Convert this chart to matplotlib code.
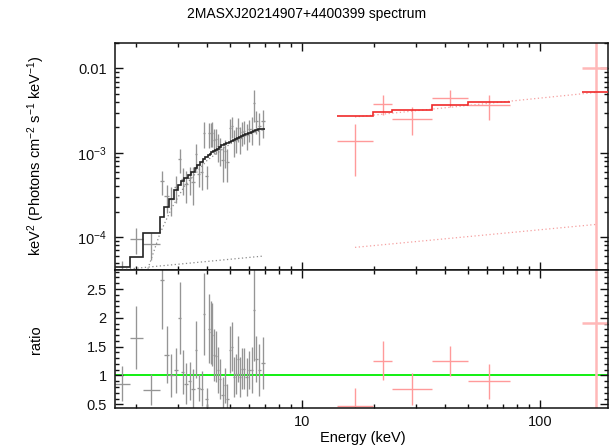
import numpy as np
import matplotlib
matplotlib.use("Agg")
import matplotlib.pyplot as plt
from matplotlib.ticker import FixedLocator, NullFormatter, FuncFormatter, MultipleLocator

plt.rcParams['font.family'] = ['Liberation Sans', 'DejaVu Sans']
plt.rcParams['mathtext.fontset'] = 'custom'
plt.rcParams['mathtext.rm'] = 'Liberation Sans'
plt.rcParams['mathtext.it'] = 'Liberation Sans'
plt.rcParams['mathtext.default'] = 'regular'

title = "2MASXJ20214907+4400399 spectrum"
xlabel = "Energy (keV)"
ylabel_top = "keV$^2$ (Photons cm$^{-2}$ s$^{-1}$ keV$^{-1}$)"
ylabel_bot = "ratio"

# ---- black (soft X-ray) group ----
black_edges = [1.64, 1.89, 2.14, 2.53, 2.64, 2.77, 2.89, 3.01, 3.11, 3.20, 3.32, 3.43, 3.54,
               3.63, 3.73, 3.84, 3.93, 4.03, 4.10, 4.16, 4.23, 4.31, 4.38, 4.46, 4.58, 4.69,
               4.80, 4.92, 5.02, 5.12, 5.23, 5.34, 5.44, 5.53, 5.64, 5.78, 5.93, 6.08, 6.21,
               6.34, 6.51, 6.72, 6.99]
black_model = [4.48e-5, 5.78e-5, 1.11e-4, 1.75e-4, 2.26e-4, 2.88e-4, 3.62e-4, 4.2e-4, 4.6e-4,
               5.0e-4, 5.5e-4, 6.0e-4, 6.6e-4, 7.1e-4, 7.8e-4, 8.4e-4, 8.9e-4, 9.4e-4, 9.7e-4,
               1.01e-3, 1.05e-3, 1.09e-3, 1.12e-3, 1.18e-3, 1.23e-3, 1.27e-3, 1.30e-3, 1.35e-3,
               1.38e-3, 1.43e-3, 1.47e-3, 1.52e-3, 1.55e-3, 1.59e-3, 1.64e-3, 1.69e-3, 1.74e-3,
               1.78e-3, 1.82e-3, 1.85e-3, 1.90e-3, 1.94e-3]
black_flux = [3.85e-5, 9.57e-5, 8.33e-5, 4.66e-4, 3.07e-4, 2.88e-4, 3.95e-4, 8.4e-4, 4.88e-4,
              4.3e-4, 5.0e-4, 4.56e-4, 9.57e-4, 5.61e-4, 6.0e-4, 1.74e-3, 5.34e-4, 1.70e-3,
              1.70e-3, 1.73e-3, 1.43e-3, 1.45e-3, 1.22e-3, 1.11e-3, 8.24e-4, 1.05e-3, 7.8e-4,
              1.96e-3, 2.07e-3, 1.39e-3, 1.51e-3, 1.96e-3, 1.50e-3, 1.78e-3, 1.84e-3, 1.64e-3,
              1.90e-3, 1.94e-3, 3.89e-3, 2.39e-3, 2.09e-3, 2.37e-3]
black_flux_err = [1.39e-5, 3.18e-5, 3.0e-5, 1.49e-4, 1.11e-4, 1.07e-4, 1.41e-4, 2.65e-4, 1.75e-4,
                  1.75e-4, 1.8e-4, 2.16e-4, 3.3e-4, 1.63e-4, 2.34e-4, 5.9e-4, 1.6e-4, 5.6e-4,
                  5.3e-4, 5.6e-4, 4.7e-4, 4.9e-4, 4.5e-4, 4.1e-4, 3.7e-4, 3.8e-4, 3.25e-4,
                  5.4e-4, 5.8e-4, 5.0e-4, 5.1e-4, 6.1e-4, 5.4e-4, 5.6e-4, 5.7e-4, 5.6e-4,
                  5.7e-4, 7.1e-4, 1.6e-3, 7.4e-4, 8.6e-4, 8.7e-4]
black_ratio = [0.86, 1.655, 0.75, 2.66, 1.36, 1.0, 1.09, 2.0, 1.06, 0.86, 0.91, 0.76, 1.45,
               0.79, 0.77, 2.07, 0.6, 1.81, 1.75, 1.71, 1.36, 1.33, 1.09, 0.94, 0.67, 0.83,
               0.6, 1.45, 1.5, 0.97, 1.03, 1.29, 0.97, 1.12, 1.12, 0.97, 1.09, 1.09, 2.14,
               1.29, 1.1, 1.22]
black_ratio_err = [0.31, 0.55, 0.27, 0.85, 0.49, 0.37, 0.39, 0.63, 0.38, 0.35, 0.33, 0.36, 0.5,
                   0.23, 0.3, 0.71, 0.18, 0.6, 0.55, 0.55, 0.45, 0.45, 0.4, 0.35, 0.3, 0.3,
                   0.25, 0.4, 0.42, 0.35, 0.35, 0.4, 0.35, 0.35, 0.35, 0.33, 0.33, 0.4, 0.88,
                   0.4, 0.45, 0.45]
# model components (dotted)
black_abs_e = [2.20, 2.53, 2.83, 3.20, 4.00, 5.00, 6.00, 6.90]
black_abs_f = [3.5e-5, 1.11e-4, 2.2e-4, 4.0e-4, 8.2e-4, 1.28e-3, 1.66e-3, 1.88e-3]
black_scat_e = [1.76, 6.90]
black_scat_f = [4.15e-5, 6.0e-5]

# ---- red (hard X-ray) group ----
red_edges_a = [14.0, 19.9, 23.9, 35.0, 50.0, 75.0]
red_model_a = [2.74e-3, 3.03e-3, 3.26e-3, 3.64e-3, 3.98e-3]
red_edges_b = [150.0, 196.0]
red_model_b = [5.27e-3]
red_lo = [14.0, 19.9, 23.9, 35.0, 50.0, 150.0]
red_hi = [19.9, 23.9, 35.0, 50.0, 75.0, 196.0]
red_flux = [1.375e-3, 3.84e-3, 2.55e-3, 4.52e-3, 3.67e-3, 1.0e-2]
red_flux_lo = [8.4e-4, 1.0e-3, 9.4e-4, 1.0e-3, 1.25e-3, 9.999e-3]
red_flux_hi = [8.4e-4, 1.0e-3, 9.4e-4, 1.0e-3, 1.2e-3, 3.0e-2]
red_ratio = [0.467, 1.26, 0.77, 1.243, 0.896, 1.915]
red_ratio_err = [0.32, 0.33, 0.28, 0.26, 0.30, 5.0]
red_abs_e = [16.7, 171.5]
red_abs_f = [2.66e-3, 5.2e-3]
red_scat_e = [16.7, 171.5]
red_scat_f = [7.6e-5, 1.42e-4]

xlim = (1.638, 193.0)
ylim_top = (4.1e-5, 2.0e-2)
ylim_bot = (0.436, 2.83)

# ---- figure ----
fig = plt.figure(figsize=(6.1, 4.47), dpi=100)
ax1 = fig.add_axes([0.18852, 0.39597, 0.80820, 0.50783])
ax2 = fig.add_axes([0.18852, 0.08725, 0.80820, 0.30872], sharex=ax1)

GRAY = '#959595'
DARK = '#222222'
RED_D = '#ff9a9a'
RED_M = '#f02a2a'
PINK_DOT = '#f5a0a0'

be = np.array(black_edges)
b_lo, b_hi = be[:-1], be[1:]
b_c = np.sqrt(b_lo * b_hi)
b_xerr = [b_c - b_lo, b_hi - b_c]

r_lo = np.array(red_lo)
r_hi = np.array(red_hi)
r_c = np.sqrt(r_lo * r_hi)
r_xerr = [r_c - r_lo, r_hi - r_c]

for ax in (ax1, ax2):
    ax.set_xscale('log')

# top panel
ax1.errorbar(b_c, black_flux, xerr=b_xerr, yerr=black_flux_err, fmt='none',
             ecolor=GRAY, elinewidth=0.95, capsize=0, zorder=2)
ax1.stairs(black_model, black_edges, baseline=None, color=DARK, lw=1.2, zorder=4)
ax1.plot(black_abs_e, black_abs_f, ls=(0, (1, 2)), color='#8a8a8a', lw=0.9, zorder=3)
ax1.plot(black_scat_e, black_scat_f, ls=(0, (1, 2)), color='#8a8a8a', lw=0.9, zorder=3)

ax1.errorbar(r_c[:5], red_flux[:5], xerr=[r_xerr[0][:5], r_xerr[1][:5]],
             yerr=[red_flux_lo[:5], red_flux_hi[:5]], fmt='none',
             ecolor=RED_D, elinewidth=1.0, capsize=0, zorder=2)
ax1.errorbar(r_c[5:], red_flux[5:], xerr=[r_xerr[0][5:], r_xerr[1][5:]],
             yerr=[red_flux_lo[5:], red_flux_hi[5:]], fmt='none',
             ecolor='#ffb8b8', elinewidth=1.8, capsize=0, zorder=2)
ax1.stairs(red_model_a, red_edges_a, baseline=None, color=RED_M, lw=1.2, zorder=4)
ax1.stairs(red_model_b, red_edges_b, baseline=None, color=RED_M, lw=1.2, zorder=4)
ax1.plot(red_abs_e, red_abs_f, ls=(0, (1, 2)), color=PINK_DOT, lw=0.9, zorder=3)
ax1.plot(red_scat_e, red_scat_f, ls=(0, (1, 2)), color=PINK_DOT, lw=0.9, zorder=3)

ax1.set_yscale('log')
ax1.set_xlim(*xlim)
ax1.set_ylim(*ylim_top)

def ylab(v, pos):
    if abs(v - 0.01) < 1e-9:
        return '0.01'
    e = int(round(np.log10(v)))
    return '$10^{%d}$' % e
ax1.yaxis.set_major_locator(FixedLocator([1e-4, 1e-3, 1e-2]))
ax1.yaxis.set_major_formatter(FuncFormatter(ylab))
minor_y = [m * 10.0 ** d for d in (-5, -4, -3, -2) for m in range(2, 10)]
ax1.yaxis.set_minor_locator(FixedLocator(minor_y))
ax1.yaxis.set_minor_formatter(NullFormatter())

# bottom panel
ax2.axhline(1.0, color='#00ee00', lw=1.3, zorder=1)
ax2.errorbar(b_c, black_ratio, xerr=b_xerr, yerr=black_ratio_err, fmt='none',
             ecolor=GRAY, elinewidth=0.95, capsize=0, zorder=2)
ax2.errorbar(r_c[:5], red_ratio[:5], xerr=[r_xerr[0][:5], r_xerr[1][:5]],
             yerr=red_ratio_err[:5], fmt='none', ecolor=RED_D, elinewidth=1.0,
             capsize=0, zorder=2)
ax2.errorbar(r_c[5:], red_ratio[5:], xerr=[r_xerr[0][5:], r_xerr[1][5:]],
             yerr=red_ratio_err[5:], fmt='none', ecolor='#ffb8b8', elinewidth=1.8,
             capsize=0, zorder=2)
ax2.set_ylim(*ylim_bot)
ax2.yaxis.set_major_locator(FixedLocator([0.5, 1.0, 1.5, 2.0, 2.5]))
ax2.yaxis.set_major_formatter(FuncFormatter(lambda v, p: ('%g' % v)))
ax2.yaxis.set_minor_locator(MultipleLocator(0.1))

ax2.xaxis.set_major_locator(FixedLocator([10, 100]))
ax2.xaxis.set_major_formatter(FuncFormatter(lambda v, p: '%d' % v))
minor_x = [m * 10.0 ** d for d in (0, 1, 2) for m in range(2, 10)]
ax2.xaxis.set_minor_locator(FixedLocator(minor_x))
ax2.xaxis.set_minor_formatter(NullFormatter())
plt.setp(ax1.get_xticklabels(), visible=False)

for ax in (ax1, ax2):
    ax.tick_params(which='both', direction='in', top=True, right=True, width=1.0,
                   colors='#111111', labelsize=10.5)
    ax.tick_params(which='major', length=5.5)
    ax.tick_params(which='minor', length=3)
    ax.tick_params(axis='y', pad=6)
    ax.tick_params(axis='x', pad=5)
    for s in ax.spines.values():
        s.set_linewidth(1.1)
        s.set_color('#111111')

fig.text(0.503, 0.969, title, ha='center', va='center', fontsize=10)
fig.text(36 / 610, 1 - 156 / 447, ylabel_top, rotation=90, ha='center', va='center',
         fontsize=10.5)
fig.text(36 / 610, 1 - 340 / 447, ylabel_bot, rotation=90, ha='center', va='center',
         fontsize=10.5)
fig.text(363 / 610, 1 - 438 / 447, xlabel, ha='center', va='center', fontsize=10.5)

fig.savefig('out.png', dpi=100)
